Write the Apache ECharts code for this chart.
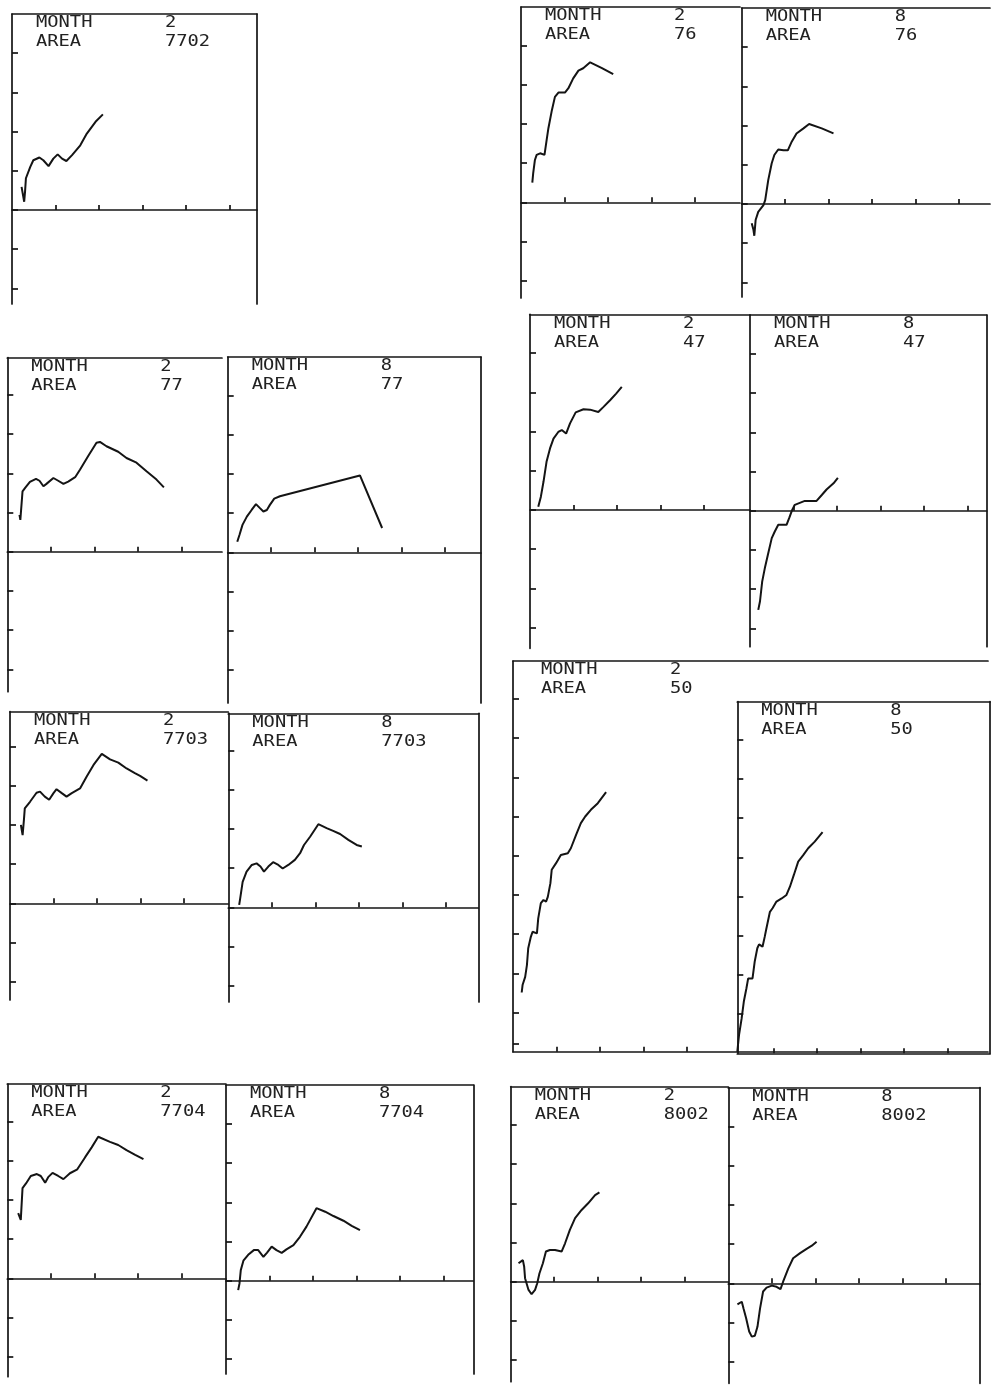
<!DOCTYPE html>
<html>
<head>
<meta charset="utf-8">
<script src="https://cdn.jsdelivr.net/npm/echarts@6/dist/echarts.min.js"></script>
<style>
html,body{margin:0;padding:0;background:#fff;}
#c{width:992px;height:1391px;}
</style>
</head>
<body>
<div id="c"></div>
<script>
// ---- labels ----
const panelMonth = ['2','2','8','2','8','2','8','2','8','2','8','2','8','2','8'];
const panelArea  = ['7702','76','76','77','77','47','47','7703','7703','50','50','7704','7704','8002','8002'];

// ---- series values (x in axis-tick units, y in axis-tick units) ----
const x_7702_2 = [0.22,0.28,0.30,0.32,0.42,0.49,0.63,0.72,0.84,0.95,1.05,1.15,1.25,1.38,1.57,1.72,1.92,2.09];
const y_7702_2 = [0.59,0.21,0.47,0.81,1.10,1.27,1.34,1.27,1.12,1.31,1.42,1.31,1.25,1.40,1.65,1.95,2.25,2.44];

const x_76_2 = [0.26,0.28,0.32,0.36,0.44,0.54,0.59,0.63,0.71,0.78,0.86,1.01,1.09,1.20,1.32,1.43,1.59,1.85,2.12];
const y_76_2 = [0.50,0.74,1.08,1.21,1.25,1.21,1.59,1.89,2.35,2.69,2.80,2.80,2.91,3.16,3.36,3.42,3.57,3.43,3.27];

const x_76_8 = [0.23,0.27,0.29,0.32,0.38,0.50,0.54,0.61,0.69,0.75,0.84,0.96,1.06,1.15,1.26,1.42,1.55,1.84,2.11];
const y_76_8 = [-0.49,-0.66,-0.81,-0.41,-0.20,-0.03,0.10,0.61,1.04,1.25,1.39,1.37,1.37,1.59,1.80,1.93,2.04,1.93,1.80];

const x_77_2 = [0.28,0.30,0.35,0.41,0.52,0.66,0.74,0.83,0.90,1.06,1.17,1.29,1.40,1.56,1.67,1.86,2.05,2.13,2.28,2.55,2.74,2.97,3.20,3.43,3.60];
const y_77_2 = [0.94,0.81,1.54,1.63,1.78,1.86,1.81,1.67,1.73,1.88,1.81,1.73,1.79,1.90,2.09,2.44,2.78,2.80,2.69,2.55,2.39,2.27,2.05,1.84,1.64];

const x_77_8 = [0.22,0.27,0.34,0.44,0.55,0.65,0.73,0.82,0.90,0.97,1.07,1.20,3.04,3.55];
const y_77_8 = [0.27,0.44,0.70,0.91,1.08,1.23,1.14,1.04,1.08,1.21,1.37,1.43,1.96,0.62];

const x_47_2 = [0.19,0.25,0.31,0.38,0.46,0.54,0.65,0.73,0.83,0.92,1.05,1.23,1.38,1.57,1.69,1.84,1.98,2.11];
const y_47_2 = [0.08,0.34,0.72,1.23,1.57,1.82,1.99,2.04,1.95,2.21,2.49,2.57,2.56,2.50,2.63,2.80,2.97,3.14];

const x_47_8 = [0.19,0.23,0.28,0.34,0.41,0.50,0.57,0.65,0.77,0.84,0.90,0.97,1.03,1.26,1.53,1.65,1.76,1.92,2.02];
const y_47_8 = [-2.53,-2.31,-1.81,-1.47,-1.13,-0.70,-0.53,-0.36,-0.36,-0.36,-0.19,0.02,0.15,0.25,0.25,0.40,0.54,0.70,0.84];

const x_7703_2 = [0.25,0.29,0.32,0.34,0.46,0.61,0.69,0.80,0.90,1.00,1.07,1.19,1.30,1.42,1.61,1.76,1.92,2.11,2.30,2.49,2.68,2.87,2.99,3.16];
const y_7703_2 = [2.00,1.74,2.13,2.42,2.59,2.82,2.85,2.72,2.64,2.81,2.91,2.81,2.72,2.81,2.93,3.23,3.53,3.81,3.67,3.59,3.44,3.32,3.25,3.13];

const x_7703_8 = [0.25,0.27,0.33,0.42,0.54,0.65,0.74,0.82,0.92,1.03,1.15,1.25,1.38,1.53,1.65,1.74,1.88,2.07,2.26,2.41,2.57,2.76,2.95,3.07];
const y_7703_8 = [0.06,0.20,0.65,0.91,1.08,1.12,1.04,0.91,1.04,1.15,1.08,0.99,1.08,1.21,1.38,1.59,1.80,2.12,2.02,1.95,1.87,1.72,1.59,1.55];

const x_50_2 = [0.20,0.22,0.28,0.32,0.35,0.41,0.45,0.49,0.55,0.58,0.64,0.70,0.76,0.80,0.86,0.89,0.99,1.10,1.26,1.33,1.45,1.56,1.66,1.79,1.95,2.14];
const y_50_2 = [1.51,1.70,1.91,2.21,2.64,2.93,3.06,3.10,3.02,3.40,3.79,3.87,3.83,3.95,4.30,4.64,4.81,5.02,5.06,5.19,5.53,5.83,6.00,6.17,6.34,6.62];

const x_50_8 = [0.17,0.21,0.27,0.32,0.38,0.42,0.52,0.57,0.63,0.67,0.75,0.80,0.84,0.92,0.98,1.07,1.19,1.30,1.38,1.47,1.57,1.69,1.80,1.95,2.13];
const y_50_8 = [0.04,0.47,0.89,1.32,1.66,1.91,1.91,2.34,2.68,2.78,2.72,2.97,3.19,3.61,3.70,3.87,3.95,4.04,4.25,4.55,4.89,5.06,5.23,5.40,5.64];

const x_7704_2 = [0.25,0.31,0.35,0.43,0.54,0.68,0.77,0.87,0.94,1.04,1.17,1.29,1.44,1.61,1.79,1.94,2.09,2.36,2.55,2.74,2.94,3.13];
const y_7704_2 = [1.66,1.49,2.30,2.42,2.61,2.66,2.61,2.44,2.58,2.69,2.61,2.53,2.68,2.78,3.09,3.34,3.61,3.48,3.40,3.27,3.15,3.04];

const x_7704_8 = [0.28,0.31,0.34,0.40,0.51,0.64,0.74,0.86,0.94,1.05,1.16,1.28,1.39,1.55,1.70,1.85,2.08,2.28,2.47,2.70,2.89,3.08];
const y_7704_8 = [-0.24,-0.07,0.27,0.51,0.66,0.78,0.78,0.61,0.71,0.87,0.78,0.71,0.80,0.91,1.12,1.38,1.85,1.76,1.65,1.53,1.40,1.29];

const x_8002_2 = [0.18,0.28,0.31,0.33,0.41,0.48,0.56,0.61,0.66,0.74,0.81,0.90,1.02,1.17,1.25,1.36,1.48,1.63,1.78,1.94,2.04];
const y_8002_2 = [0.47,0.55,0.38,0.09,-0.21,-0.32,-0.21,-0.04,0.21,0.47,0.77,0.81,0.81,0.77,0.98,1.32,1.62,1.83,2.00,2.21,2.28];

const x_8002_8 = [0.21,0.31,0.35,0.41,0.48,0.54,0.61,0.67,0.73,0.80,0.88,1.00,1.11,1.20,1.26,1.38,1.49,1.65,1.80,1.92,2.03];
const y_8002_8 = [-0.54,-0.47,-0.64,-0.89,-1.23,-1.36,-1.34,-1.11,-0.64,-0.21,-0.11,-0.06,-0.09,-0.15,0.04,0.38,0.64,0.77,0.88,0.96,1.06];

const seriesX = [x_7702_2,x_76_2,x_76_8,x_77_2,x_77_8,x_47_2,x_47_8,x_7703_2,x_7703_8,x_50_2,x_50_8,x_7704_2,x_7704_8,x_8002_2,x_8002_8];
const seriesY = [y_7702_2,y_76_2,y_76_8,y_77_2,y_77_8,y_47_2,y_47_8,y_7703_2,y_7703_8,y_50_2,y_50_8,y_7704_2,y_7704_8,y_8002_2,y_8002_8];

// ---- layout (pixels): box left/top/right/bottom, zero line y, right border ----
const layout = [
  {l:12,   t:14,   r:257,  b:304,  z:210,   rb:true},
  {l:521,  t:7,    r:740,  b:298,  z:202.3, rb:false},
  {l:741.7,t:8,    r:990,  b:297,  z:204,   rb:false},
  {l:7.3,  t:357.7,r:222,  b:691.7,z:551.7, rb:false},
  {l:227.7,t:357,  r:481,  b:703,  z:552.3, rb:true},
  {l:530,  t:314.3,r:750,  b:648.3,z:510,   rb:false},
  {l:750,  t:315,  r:986.7,b:646.7,z:510.7, rb:true},
  {l:10,   t:711.7,r:228.3,b:1000, z:903.3, rb:false},
  {l:228.3,t:713.3,r:478.3,b:1002, z:907.3, rb:true},
  {l:513,  t:661,  r:988,  b:1051.7,z:1051.7,rb:false, xtMax:4, tdx:4, extraY:[0.2]},
  {l:737.3,t:701.7,r:990,  b:1053.3,z:1053.3,rb:true, x0:0.17},
  {l:7.3,  t:1084, r:226,  b:1376.7,z:1278.3,rb:false},
  {l:226,  t:1085, r:473.3,b:1374, z:1280.7,rb:true},
  {l:510.7,t:1086.7,r:728.3,b:1381.7,z:1281.7,rb:false},
  {l:728.3,t:1087.7,r:980, b:1383.3,z:1283.3,rb:true}
];
const SX = 43.5, SY = 39.2;
const INK = '#141414';
const axisLS = {color: INK, width: 1.7};

const grids = [], xAxes = [], yAxes = [], series = [], graphics = [];
layout.forEach((L, i) => {
  const xMin = L.x0 || 0;
  const xMax = xMin + (L.r - L.l) / SX;
  const yMax = (L.z - L.t) / SY;
  const yMin = -(L.b - L.z) / SY;
  const xt = [];
  const xLim = L.xtMax !== undefined ? L.xtMax : xMax - 0.2;
  for (let k = 1; k <= xLim; k++) xt.push(k);
  const yt = (L.extraY || []).slice();
  for (let k = Math.ceil(yMin + 0.2); k <= yMax - 0.2; k++) yt.push(k);

  grids.push({left: L.l, top: L.t, width: L.r - L.l, height: L.b - L.t, outerBoundsMode: 'none', containLabel: false});

  const xMain = xAxes.length;
  xAxes.push({gridIndex: i, type: 'value', min: xMin, max: xMax, position: 'bottom',
    axisLine: {show: true, onZero: true, lineStyle: axisLS},
    axisTick: {show: true, inside: true, length: 5, customValues: xt, lineStyle: axisLS},
    axisLabel: {show: false}, splitLine: {show: false}});
  xAxes.push({gridIndex: i, type: 'value', min: xMin, max: xMax, position: 'top',
    axisLine: {show: true, onZero: false, lineStyle: axisLS},
    axisTick: {show: false}, axisLabel: {show: false}, splitLine: {show: false}});

  const yMain = yAxes.length;
  yAxes.push({gridIndex: i, type: 'value', min: yMin, max: yMax, position: 'left',
    axisLine: {show: true, onZero: false, lineStyle: axisLS},
    axisTick: {show: true, inside: true, length: 6, customValues: yt, lineStyle: axisLS},
    axisLabel: {show: false}, splitLine: {show: false}});
  if (L.rb) {
    yAxes.push({gridIndex: i, type: 'value', min: yMin, max: yMax, position: 'right',
      axisLine: {show: true, onZero: false, lineStyle: axisLS},
      axisTick: {show: false}, axisLabel: {show: false}, splitLine: {show: false}});
  }

  series.push({type: 'line', xAxisIndex: xMain, yAxisIndex: yMain,
    data: seriesX[i].map((x, j) => [x, seriesY[i][j]]),
    showSymbol: false, symbol: 'none', smooth: false, silent: true,
    lineStyle: {color: INK, width: 2}});

  const tx = L.l + 24 + (L.tdx || 0);
  const vx = L.l + 153 + (L.tdx || 0);
  const font = '15px "DejaVu Sans Mono"';
  const mk = (x, y, text) => ({type: 'text', x: x, y: y, scaleX: 1.25, silent: true,
    style: {text: text, font: font, fill: '#222', verticalAlign: 'top', textVerticalAlign: 'top'}});
  graphics.push(mk(tx, L.t + 2, 'MONTH'));
  graphics.push(mk(tx, L.t + 21, 'AREA'));
  graphics.push(mk(vx, L.t + 2, panelMonth[i]));
  graphics.push(mk(vx, L.t + 21, panelArea[i]));
});

const chart = echarts.init(document.getElementById('c'), null, {renderer: 'canvas', width: 992, height: 1391});
chart.setOption({
  animation: false,
  backgroundColor: '#fff',
  grid: grids,
  xAxis: xAxes,
  yAxis: yAxes,
  series: series,
  graphic: graphics
});
</script>
</body>
</html>
